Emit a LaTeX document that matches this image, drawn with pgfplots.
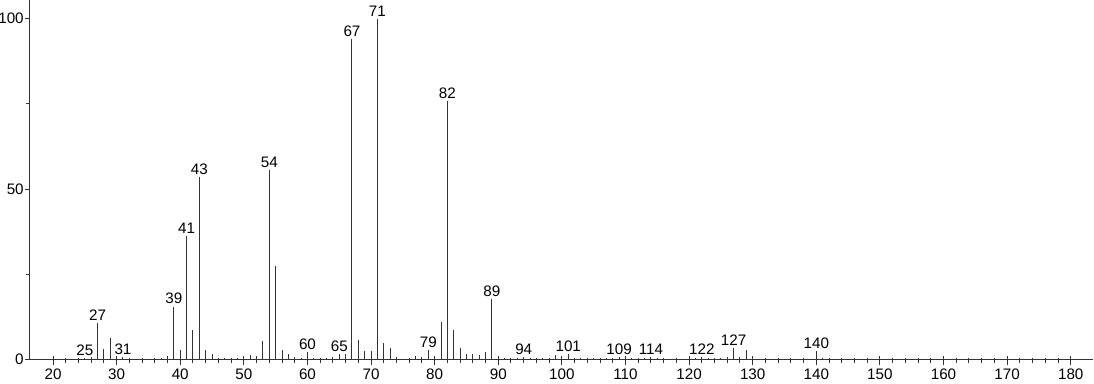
\documentclass[border=0pt]{standalone}
\usepackage{pgfplots}
\pgfplotsset{compat=1.18}
\usepackage{fontspec}
\setmainfont{Liberation Sans}
\begin{document}
\fontsize{7.6}{9}\selectfont
\begin{tikzpicture}[x=1pt,y=1pt]
\begin{axis}[
  at={(14.65pt,12.35pt)}, anchor=south west,
  scale only axis, width=531.85pt, height=179.65pt,
  xmin=16.27, xmax=183.5, ymin=0, ymax=105.5,
  axis x line=bottom, axis y line=left,
  axis line style={-, black!80, line width=0.5pt},
  xtick={20,30,...,180}, minor x tick num=4,
  ytick={0,50,100}, minor y tick num=1,
  xtick align=center, ytick align=outside,
  major tick length=2pt, minor tick length=1.4pt,
  x tick style={/pgfplots/major tick length=4.6pt,/pgfplots/minor tick length=2.4pt, yshift=-0.7pt},
  tick style={black!80, line width=0.5pt},
  /pgf/number format/assume math mode=true,
  xticklabel style={font=\fontsize{7.6}{9}\selectfont, inner sep=1pt, yshift=-2.8pt},
  yticklabel style={font=\fontsize{7.6}{9}\selectfont, inner sep=0.6pt},
  clip=false,
]
\addplot[ycomb, black!80, line width=0.5pt, mark=none] table {
x y
25 0.4
26 0.8
27 10.8
28 3.0
29 6.3
30 0.5
31 0.8
32 0.3
36 0.2
37 0.5
38 0.9
39 15.5
40 2.8
41 36.2
42 8.7
43 53.4
44 2.6
45 1.6
46 0.4
47 0.5
48 0.2
49 0.4
50 0.5
51 1.4
52 0.9
53 5.5
54 55.7
55 27.3
56 2.8
57 1.6
58 0.6
59 0.4
60 2.0
61 0.5
62 0.3
63 0.5
64 0.6
65 1.5
66 1.6
67 94.0
68 5.6
69 2.3
70 2.4
71 100
72 4.8
73 3.3
74 0.6
75 0.2
76 0.3
77 0.9
78 0.8
79 2.8
80 1.0
81 11.0
82 75.7
83 8.6
84 3.3
85 1.6
86 1.6
87 1.2
88 2.0
89 17.6
90 0.4
91 0.5
92 0.3
93 0.5
94 0.7
95 0.5
96 0.4
97 0.5
98 0.4
99 1.2
100 0.5
101 1.5
102 0.3
103 0.3
104 0.2
105 0.5
106 0.2
107 0.4
108 0.3
109 0.7
110 0.3
111 0.5
112 0.3
113 0.5
114 0.7
115 0.5
116 0.2
121 0.3
122 0.8
123 0.5
124 0.3
125 0.4
126 0.6
127 3.4
128 0.8
129 2.6
130 0.3
140 2.5
141 0.5
142 0.3
};
\addplot[draw=none, mark=none, nodes near coords, point meta=explicit symbolic,
  nodes near coords style={anchor=south, inner sep=1pt, font=\fontsize{7.6}{9}\selectfont, text=black}]
  table[meta=l] {
x y l
25 0.4 25
27 10.8 27
31 0.8 31
39 15.5 39
41 36.2 41
43 53.4 43
54 55.7 54
60 2.0 60
65 1.5 65
67 94.0 67
71 100 71
79 2.8 79
82 75.7 82
89 17.6 89
94 0.7 94
101 1.5 101
109 0.7 109
114 0.7 114
122 0.8 122
127 3.4 127
140 2.5 140
};
\end{axis}
\pgfresetboundingbox
\useasboundingbox (0,0) rectangle (547pt,192pt);
\end{tikzpicture}
\end{document}
